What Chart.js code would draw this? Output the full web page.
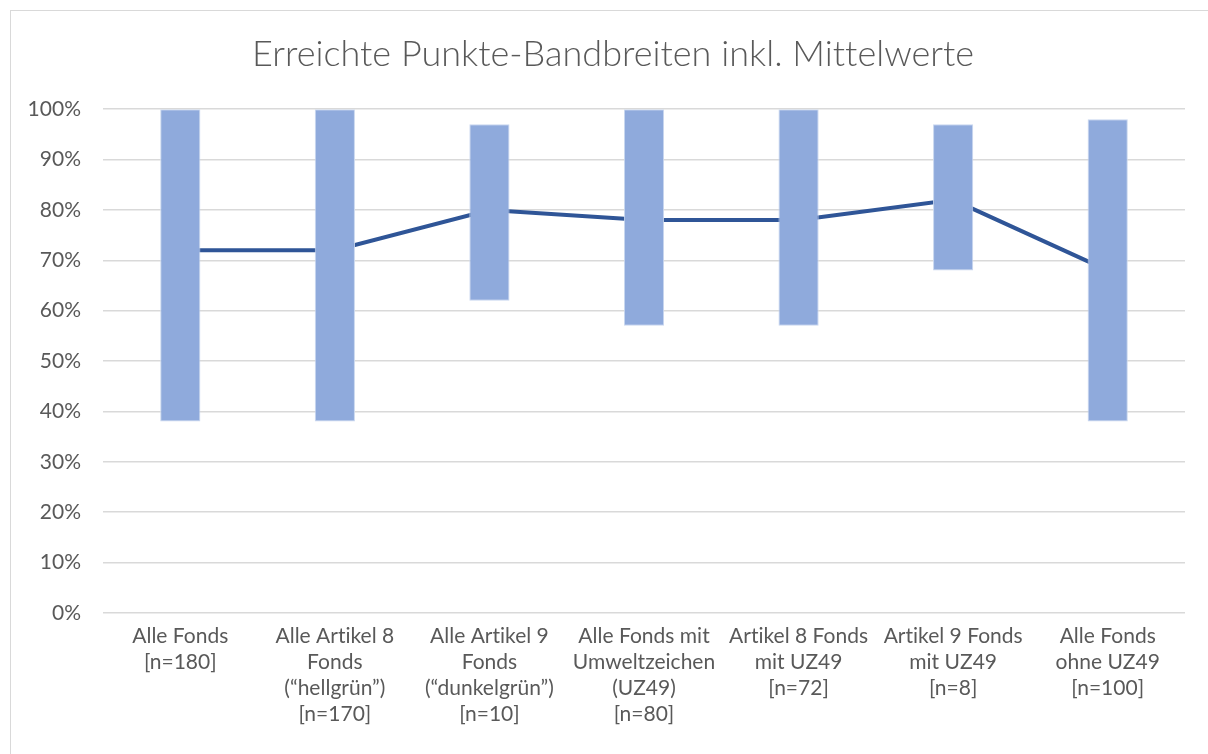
<!DOCTYPE html>
<html>
<head>
<meta charset="utf-8">
<script src="https://cdn.jsdelivr.net/npm/chart.js@4.4.1/dist/chart.umd.min.js"></script>
<style>
    html, body { margin: 0; padding: 0; background: #fff; }
    #frame {
        position: absolute;
        left: 10px;
        top: 10px;
        width: 1220px;
        height: 760px;
        border: 1px solid #d9d9d9;
        box-sizing: border-box;
    }
    #wrap { position: absolute; left: 0; top: 0; width: 1208px; height: 754px; }
</style>
</head>
<body>
<div id="frame"></div>
<div id="wrap"><canvas id="rangeChart"></canvas></div>
<script>
// Chart data
const categories = [
    ['Alle Fonds', '[n=180]'],
    ['Alle Artikel 8', 'Fonds', '(\u201Chellgrün\u201D)', '[n=170]'],
    ['Alle Artikel 9', 'Fonds', '(\u201Cdunkelgrün\u201D)', '[n=10]'],
    ['Alle Fonds mit', 'Umweltzeichen', '(UZ49)', '[n=80]'],
    ['Artikel 8 Fonds', 'mit UZ49', '[n=72]'],
    ['Artikel 9 Fonds', 'mit UZ49', '[n=8]'],
    ['Alle Fonds', 'ohne UZ49', '[n=100]']
];
const minValues = [38, 38, 62, 57, 57, 68, 38];
const maxValues = [100, 100, 97, 100, 100, 97, 98];
const meanValues = [72, 72, 80, 78, 78, 82, 68];
const yTicks = [0, 10, 20, 30, 40, 50, 60, 70, 80, 90, 100];

const textColor = '#595959';
const fontFamily = 'Lato, "Noto Sans", sans-serif';

document.addEventListener('DOMContentLoaded', function() {
    initializeChart();
});

// Lato joins "ti" / "tt" into ligatures; a tiny letter spacing switches them off
const noLigatures = {
    id: 'noLigatures',
    beforeDraw(chart) {
        chart.ctx.letterSpacing = '0.01px';
    }
};

// the original title sits a little right of the canvas centre
const titleShift = {
    id: 'titleShift',
    afterLayout(chart) {
        if (chart.titleBlock) {
            chart.titleBlock.left = 41;
        }
    }
};

function initializeChart() {
    const ctx = document.getElementById('rangeChart').getContext('2d');
    const ranges = minValues.map((v, i) => [v, maxValues[i]]);

    window.rangeChart = new Chart(ctx, {
        data: {
            labels: categories,
            datasets: [{
                type: 'bar',
                label: 'Bandbreite',
                data: ranges,
                backgroundColor: '#8faadc',
                borderColor: '#c9d7ef',
                borderWidth: 1,
                borderSkipped: false,
                barPercentage: 0.26,
                categoryPercentage: 1,
                order: 1
            }, {
                type: 'line',
                label: 'Mittelwert',
                data: meanValues,
                borderColor: '#2f5597',
                borderWidth: 4,
                pointRadius: 0,
                tension: 0,
                order: 2
            }]
        },
        plugins: [noLigatures, titleShift],
        options: {
            responsive: true,
            maintainAspectRatio: false,
            animation: false,
            layout: {
                padding: { top: 0, right: 23, bottom: 0, left: 0 }
            },
            plugins: {
                legend: { display: false },
                tooltip: { enabled: false },
                title: {
                    display: true,
                    text: 'Erreichte Punkte-Bandbreiten inkl. Mittelwerte',
                    color: textColor,
                    font: { family: fontFamily, size: 36, weight: 300 },
                    padding: { top: 33, bottom: 33 }
                }
            },
            scales: {
                x: {
                    offset: true,
                    grid: { display: false, drawTicks: false },
                    border: { display: false },
                    ticks: {
                        color: textColor,
                        font: { family: fontFamily, size: 21, lineHeight: 1.24 },
                        padding: 10,
                        maxRotation: 0,
                        autoSkip: false
                    },
                    afterFit: function(scale) { scale.height = 141; }
                },
                y: {
                    min: 0,
                    max: 100,
                    afterBuildTicks: function(scale) {
                        scale.ticks = yTicks.map(v => ({ value: v }));
                    },
                    grid: { color: '#d9d9d9', lineWidth: 1.5, drawTicks: false },
                    border: { display: false },
                    ticks: {
                        color: textColor,
                        font: { family: fontFamily, size: 21 },
                        padding: 22,
                        callback: v => v + '%'
                    },
                    afterFit: function(scale) { scale.width = 103; }
                }
            }
        }
    });
}
</script>
</body>
</html>
